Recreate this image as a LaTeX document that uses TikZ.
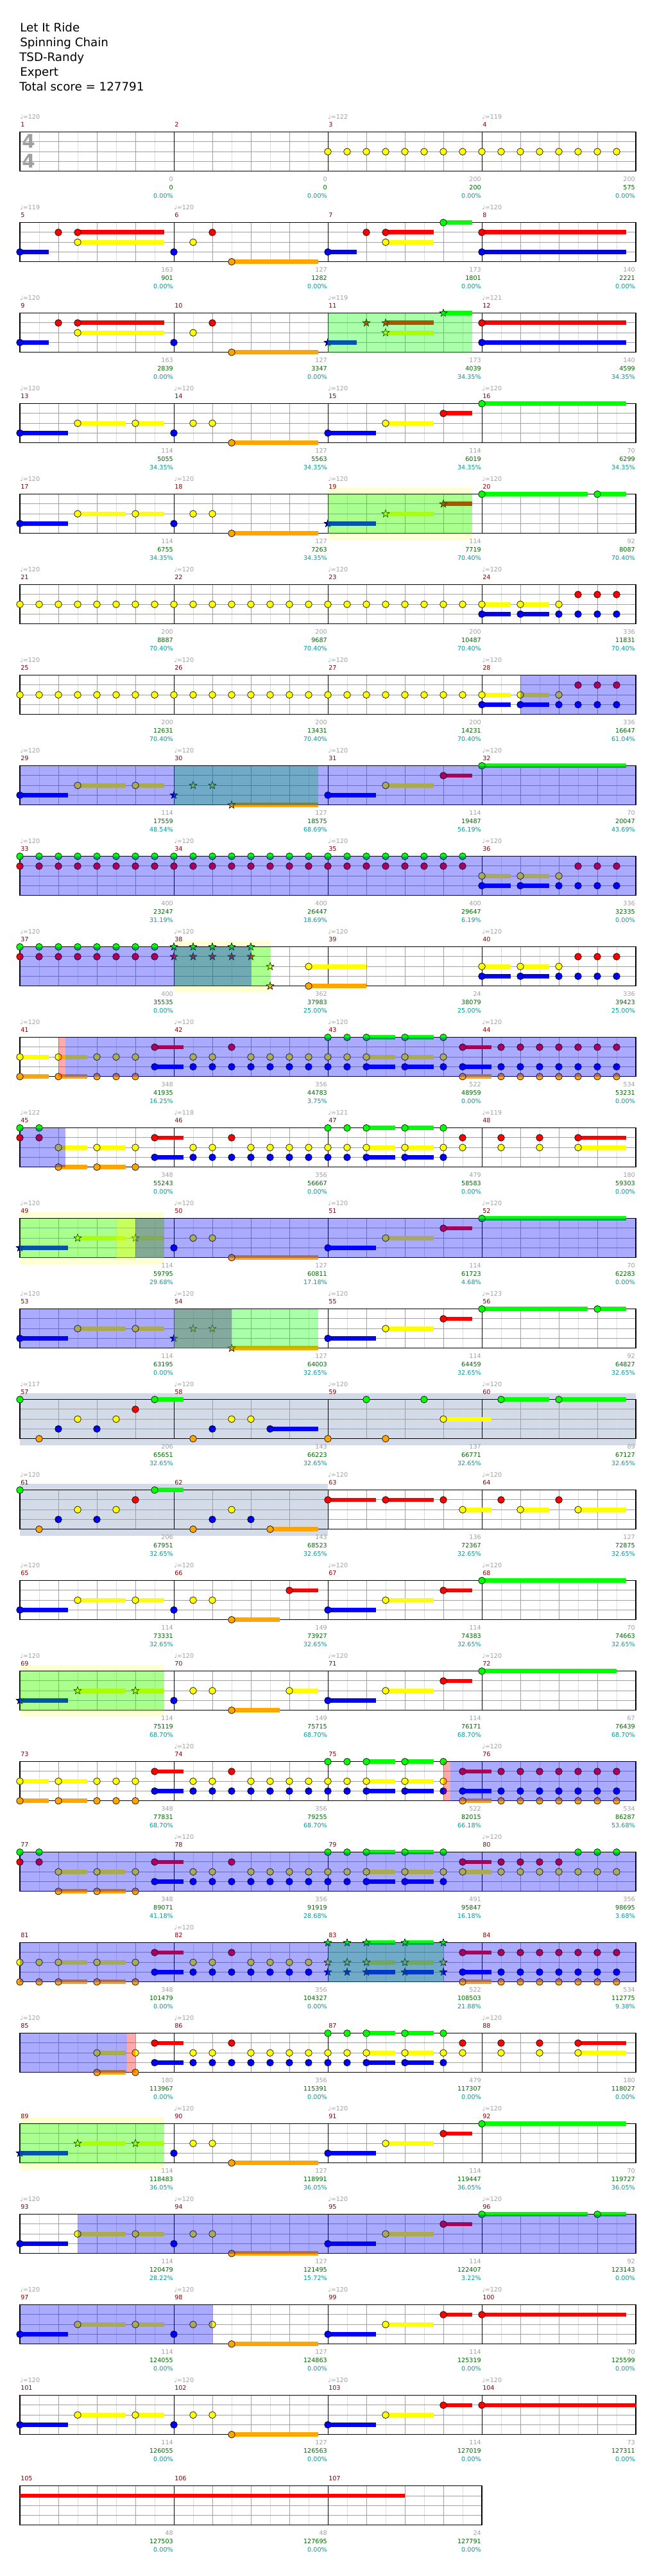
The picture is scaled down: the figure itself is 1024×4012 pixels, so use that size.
\documentclass[tikz,border=0pt]{standalone}
\usepackage{fontspec}
\setmainfont{DejaVu Sans}
\definecolor{cG}{HTML}{00FF00}
\definecolor{cR}{HTML}{FF0000}
\definecolor{cY}{HTML}{FFFF00}
\definecolor{cB}{HTML}{0000FF}
\definecolor{cO}{HTML}{FFA500}
\definecolor{cBl}{HTML}{0000FF}
\definecolor{cYo}{HTML}{FFFF00}
\definecolor{cPY}{HTML}{FFFFD4}
\definecolor{cSl}{HTML}{D4DBE8}
\definecolor{gridl}{HTML}{DCDCDC}
\definecolor{gridd}{HTML}{A0A0A0}
\definecolor{mred}{HTML}{8B0000}
\definecolor{tgray}{HTML}{A0A0A0}
\definecolor{sgreen}{HTML}{006400}
\definecolor{scyan}{HTML}{009999}
\tikzset{
 rowat/.style={shift={(31,{205.7+141*(#1-1)})},x=22.5pt,y=-11.4375pt},
 gl/.style={draw=gridl,line width=0.75pt},
 gd/.style={draw=gridd,line width=0.75pt},
 ml/.style={draw=black,line width=0.75pt},
 bd/.style={draw=black,line width=1pt},
 nt/.style={draw=black,line width=0.5pt},
 small/.style={inner sep=0pt,font=\fontsize{7.2}{8}\selectfont},
 ttl/.style={inner sep=0pt,anchor=base west,font=\fontsize{13.7}{16}\selectfont},
}
\newcommand\stf[1]{%
 \foreach \mm in {1,...,#1}{%
  \foreach \j in {1,3,5,7}{\draw[gl] ({8*(\mm-1)+\j},0) -- ++(0,4);}
  \foreach \j in {2,4,6}{\draw[gd] ({8*(\mm-1)+\j},0) -- ++(0,4);}
 }
 \foreach \l in {1,2,3}{\draw[gd] (0,\l) -- ({8*#1},\l);}
 \foreach \mm in {2,...,#1}{\draw[ml] ({8*(\mm-1)},0) -- ++(0,4);}
 \draw[bd] (0,0) rectangle ({8*#1},4);
}
\newcommand\Nt[3]{\foreach \e in {#3}{\filldraw[nt,fill=#2] (\e,#1) circle[radius=4pt];}}
\newcommand\Sr[3]{\foreach \e in {#3}{\filldraw[nt,fill=#2,shift={(\e,#1)}] (90:4.6pt) -- (126:1.9pt) -- (162:4.6pt) -- (198:1.9pt) -- (234:4.6pt) -- (270:1.9pt) -- (306:4.6pt) -- (342:1.9pt) -- (18:4.6pt) -- (54:1.9pt) -- cycle;}}
\newcommand\Su[3]{\foreach \ua/\ub in {#3}{\fill[#2] ([yshift=2.6pt]\ua,#1) rectangle ([yshift=-2.6pt]\ub,#1);}}
\newcommand\Ov[3]{\fill[#1,fill opacity=0.333] (#2,0) rectangle (#3,4);}
\newcommand\Bk[3]{\fill[#1] (#2,-0.66) rectangle (#3,4.66);}
\newcommand\firstA{\Su{3}{cB}{0/2.5}\Su{2}{cY}{3/5.5,6/7.5}\Su{4}{cO}{11/15.5}\Nt{3}{cB}{0,8}\Nt{2}{cY}{3,6,9,10}\Nt{4}{cO}{11}}
\newcommand\firstS{\Su{3}{cB}{0/2.5}\Su{2}{cY}{3/5.5,6/7.5}\Sr{3}{cB}{0}\Sr{2}{cY}{3,6}\Nt{3}{cB}{8}\Nt{2}{cY}{9,10}}
\newcommand\secA{\Su{3}{cB}{16/18.5}\Su{2}{cY}{19/21.5}\Su{1}{cR}{22/23.5}\Nt{3}{cB}{16}\Nt{2}{cY}{19}\Nt{1}{cR}{22}}
\newcommand\finY{\Su{2}{cY}{24/25.5,26/27.5}\Su{3}{cB}{24/25.5,26/27.5}\Nt{2}{cY}{24,26,28}\Nt{3}{cB}{24,26,28,29,30,31}\Nt{1}{cR}{29,30,31}}
\newcommand\midA{\Su{1}{cR}{7/8.5}\Su{3}{cB}{7/8.5,18/19.5,20/21.5}\Su{2}{cY}{18/19.5,20/21.5}\Su{0}{cG}{18/19.5,20/21.5}%
 \Nt{1}{cR}{7,11}\Nt{2}{cY}{9,10,12,13,14,15,16,17,18,20,22}\Nt{3}{cB}{7,9,10,11,12,13,14,15,16,17,18,20,22}\Nt{0}{cG}{16,17,18,20,22}}
\newcommand\midS{\Su{1}{cR}{7/8.5}\Su{3}{cB}{7/8.5,18/19.5,20/21.5}\Su{2}{cY}{18/19.5,20/21.5}\Su{0}{cG}{18/19.5,20/21.5}%
 \Nt{1}{cR}{7,11}\Nt{2}{cY}{9,10,12,13,14,15}\Nt{3}{cB}{7,9,10,11,12,13,14,15}\Sr{0}{cG}{16,17,18,20,22}\Sr{2}{cY}{16,17,18,20,22}\Sr{3}{cB}{16,17,18,20,22}}
\newcommand\finR{\Su{1}{cR}{23/24.5}\Su{3}{cB}{23/24.5}\Su{4}{cO}{23/24.5}\Nt{1}{cR}{23,25,26,27,28,29,30,31}\Nt{3}{cB}{23,25,26,27,28,29,30,31}\Nt{4}{cO}{23,25,26,27,28,29,30,31}}
\newcommand\finRY{\Su{1}{cR}{29/31.5}\Su{2}{cY}{29/31.5}\Nt{1}{cR}{23,25,27,29}\Nt{2}{cY}{23,25,27,29}}
\newcommand\startY{\Su{2}{cY}{0/1.5,2/3.5}\Su{4}{cO}{0/1.5,2/3.5}\Nt{2}{cY}{0,2,4,5,6}\Nt{4}{cO}{0,2,4,5,6}}
\begin{document}
\begin{tikzpicture}[x=0.75pt,y=-0.75pt]
\useasboundingbox (0,0) rectangle (1024,4012);
\fill[white] (0,0) rectangle (1024,4012);
\node[ttl] (t1) at (31,49) {Let It Ride};
\node[ttl] (t2) at (31,72.2) {Spinning Chain};
\node[ttl] (t3) at (30,95.4) {TSD-Randy};
\node[ttl] (t4) at (31,118.5) {Expert};
\node[ttl] (t5) at (30,141.7) {Total score = 127791};
% row 1
\begin{scope}[rowat=1]
\stf{4}
\Nt{2}{cY}{16,...,31}
\end{scope}
\node[text=gridd,font=\bfseries\fontsize{22}{22}\selectfont,inner sep=0pt] (ts1) at (44.5,220) {4};
\node[text=gridd,font=\bfseries\fontsize{22}{22}\selectfont,inner sep=0pt] (ts2) at (44.5,250.5) {4};
% row 2
\begin{scope}[rowat=2]
\stf{4}
\Su{0}{cG}{22/23.5}\Su{1}{cR}{3/7.5,19/21.5,24/31.5}\Su{2}{cY}{3/7.5,19/21.5}\Su{3}{cB}{0/1.5,16/17.5,24/31.5}\Su{4}{cO}{11/15.5}
\Nt{0}{cG}{22}\Nt{1}{cR}{2,3,10,18,19,24}\Nt{2}{cY}{3,9,19}\Nt{3}{cB}{0,8,16,24}\Nt{4}{cO}{11}
\end{scope}
% row 3
\begin{scope}[rowat=3]
\stf{4}
\Su{0}{cG}{22/23.5}\Su{1}{cR}{3/7.5,19/21.5,24/31.5}\Su{2}{cY}{3/7.5,19/21.5}\Su{3}{cB}{0/1.5,16/17.5,24/31.5}\Su{4}{cO}{11/15.5}
\Nt{1}{cR}{2,3,10,24}\Nt{2}{cY}{3,9}\Nt{3}{cB}{0,8,24}\Nt{4}{cO}{11}
\Sr{3}{cB}{16}\Sr{1}{cR}{18,19}\Sr{2}{cY}{19}\Sr{0}{cG}{22}
\Ov{cG}{16}{23.5}
\end{scope}
% row 4
\begin{scope}[rowat=4]
\stf{4}
\firstA\secA\Su{0}{cG}{24/31.5}\Nt{0}{cG}{24}
\end{scope}
% row 5
\begin{scope}[rowat=5]
\Bk{cPY}{16}{23.5}
\stf{4}
\firstA\Su{3}{cB}{16/18.5}\Su{2}{cY}{19/21.5}\Su{1}{cR}{22/23.5}\Su{0}{cG}{24/29.5,30/31.5}
\Sr{3}{cB}{16}\Sr{2}{cY}{19}\Sr{1}{cR}{22}\Nt{0}{cG}{24,30}
\Ov{cG}{16}{23.5}
\end{scope}
% row 6
\begin{scope}[rowat=6]
\stf{4}
\Nt{2}{cY}{0,...,23}\finY
\end{scope}
% row 7
\begin{scope}[rowat=7]
\stf{4}
\Nt{2}{cY}{0,...,23}\finY
\Ov{cBl}{26}{32}
\end{scope}
% row 8
\begin{scope}[rowat=8]
\stf{4}
\Su{3}{cB}{0/2.5}\Su{2}{cY}{3/5.5,6/7.5}\Su{4}{cO}{11/15.5}\Nt{3}{cB}{0}\Nt{2}{cY}{3,6}
\Sr{3}{cB}{8}\Sr{2}{cY}{9,10}\Sr{4}{cO}{11}
\secA\Su{0}{cG}{24/31.5}\Nt{0}{cG}{24}
\Ov{cG}{8}{15.5}\Ov{cBl}{0}{32}
\end{scope}
% row 9
\begin{scope}[rowat=9]
\stf{4}
\Nt{0}{cG}{0,...,23}\Nt{1}{cR}{0,...,23}\finY
\Ov{cBl}{0}{32}
\end{scope}
% row 10
\begin{scope}[rowat=10]
\Bk{cPY}{8}{13}
\stf{4}
\Nt{0}{cG}{0,...,7}\Nt{1}{cR}{0,...,7}
\Sr{0}{cG}{8,...,12}\Sr{1}{cR}{8,...,12}\Sr{2}{cY}{13}\Sr{4}{cO}{13}
\Su{2}{cY}{15/18}\Su{4}{cO}{15/18}\Nt{2}{cY}{15}\Nt{4}{cO}{15}
\finY
\Ov{cG}{8}{13}\Ov{cBl}{0}{12}
\end{scope}
% row 11
\begin{scope}[rowat=11]
\stf{4}
\startY\midA\finR
\Ov{cR}{2}{2.37}\Ov{cBl}{2.37}{32}
\end{scope}
% row 12
\begin{scope}[rowat=12]
\stf{4}
\Nt{0}{cG}{0,1}\Nt{1}{cR}{0,1}\Su{2}{cY}{2/3.5,4/5.5}\Su{4}{cO}{2/3.5,4/5.5}\Nt{2}{cY}{2,4,6}\Nt{4}{cO}{2,4,6}
\midA\finRY
\Ov{cBl}{0}{2.37}
\end{scope}
% row 13
\begin{scope}[rowat=13]
\Bk{cPY}{0}{7.5}
\stf{4}
\firstS\Su{4}{cO}{11/15.5}\Nt{4}{cO}{11}\secA\Su{0}{cG}{24/31.5}\Nt{0}{cG}{24}
\Ov{cG}{0}{7.5}\Ov{cYo}{5}{7.5}\Ov{cBl}{6}{32}
\end{scope}
% row 14
\begin{scope}[rowat=14]
\stf{4}
\Su{3}{cB}{0/2.5}\Su{2}{cY}{3/5.5,6/7.5}\Su{4}{cO}{11/15.5}\Nt{3}{cB}{0}\Nt{2}{cY}{3,6}
\Sr{3}{cB}{8}\Sr{2}{cY}{9,10}\Sr{4}{cO}{11}
\secA\Su{0}{cG}{24/29.5,30/31.5}\Nt{0}{cG}{24,30}
\Ov{cG}{8}{15.5}\Ov{cYo}{8}{11}\Ov{cBl}{0}{11}
\end{scope}
% row 15
\begin{scope}[rowat=15]
\Bk{cSl}{0}{32}
\stf{4}
\Su{0}{cG}{7/8.5,25/27.5,28/31.5}\Su{3}{cB}{13/15.5}\Su{2}{cY}{22/24.5}
\Nt{0}{cG}{0,7,18,21,25,28}\Nt{4}{cO}{1,9,16,19}\Nt{3}{cB}{2,4,10,13}\Nt{2}{cY}{3,5,11,12,22}\Nt{1}{cR}{6}
\end{scope}
% row 16
\begin{scope}[rowat=16]
\Bk{cSl}{0}{16}
\stf{4}
\Su{0}{cG}{7/8.5}\Su{4}{cO}{13/15.5}\Su{2}{cY}{23/24.5,26/27.5,29/31.5}\Su{1}{cR}{16/18.5,19/21.5}
\Nt{0}{cG}{0,7}\Nt{4}{cO}{1,9,13}\Nt{3}{cB}{2,4,10,12}\Nt{2}{cY}{3,5,11,23,26,29}\Nt{1}{cR}{6,16,19,22,25,28}
\end{scope}
% row 17
\begin{scope}[rowat=17]
\stf{4}
\Su{3}{cB}{0/2.5}\Su{2}{cY}{3/5.5,6/7.5}\Su{4}{cO}{11/13.5}\Su{1}{cR}{14/15.5}
\Nt{3}{cB}{0,8}\Nt{2}{cY}{3,6,9,10}\Nt{4}{cO}{11}\Nt{1}{cR}{14}
\secA\Su{0}{cG}{24/31.5}\Nt{0}{cG}{24}
\end{scope}
% row 18
\begin{scope}[rowat=18]
\Bk{cPY}{0}{7.5}
\stf{4}
\firstS\Su{4}{cO}{11/13.5}\Su{2}{cY}{14/15.5}\Nt{4}{cO}{11}\Nt{2}{cY}{14}
\secA\Su{0}{cG}{24/31}\Nt{0}{cG}{24}
\Ov{cG}{0}{7.5}
\end{scope}
% row 19
\begin{scope}[rowat=19]
\stf{4}
\startY\midA\finR
\Ov{cR}{22}{22.37}\Ov{cBl}{22.37}{32}
\end{scope}
% row 20
\begin{scope}[rowat=20]
\stf{4}
\Nt{0}{cG}{0,1}\Nt{1}{cR}{0,1}\Su{2}{cY}{2/3.5,4/5.5}\Su{4}{cO}{2/3.5,4/5.5}\Nt{2}{cY}{2,4,6}\Nt{4}{cO}{2,4,6}
\midA
\Su{1}{cR}{23/24.5}\Su{2}{cY}{23/24.5}\Nt{1}{cR}{23,25,26,27,28}\Nt{2}{cY}{23,25,26,27,28,29,30,31}\Nt{0}{cG}{29,30,31}
\Ov{cBl}{0}{32}
\end{scope}
% row 21
\begin{scope}[rowat=21]
\stf{4}
\Su{2}{cY}{2/3.5,4/5.5}\Su{4}{cO}{2/3.5,4/5.5}\Nt{2}{cY}{0,1,2,4,6}\Nt{4}{cO}{0,1,2,4,6}
\midS\finR
\Ov{cG}{16}{22}\Ov{cBl}{0}{32}
\end{scope}
% row 22
\begin{scope}[rowat=22]
\stf{4}
\Su{2}{cY}{4/5.5}\Su{4}{cO}{4/5.5}\Nt{2}{cY}{4,6}\Nt{4}{cO}{4,6}
\midA\finRY
\Ov{cBl}{0}{5.57}\Ov{cR}{5.57}{6}
\end{scope}
% row 23
\begin{scope}[rowat=23]
\Bk{cPY}{0}{7.5}
\stf{4}
\firstS\Su{4}{cO}{11/15.5}\Nt{4}{cO}{11}\secA\Su{0}{cG}{24/31.5}\Nt{0}{cG}{24}
\Ov{cG}{0}{7.5}
\end{scope}
% row 24
\begin{scope}[rowat=24]
\stf{4}
\firstA\secA\Su{0}{cG}{24/29.5,30/31.5}\Nt{0}{cG}{24,30}
\Ov{cBl}{3}{32}
\end{scope}
% row 25
\begin{scope}[rowat=25]
\stf{4}
\firstA\secA\Su{1}{cR}{24/31.5}\Nt{1}{cR}{24}
\Ov{cBl}{0}{10}
\end{scope}
% row 26
\begin{scope}[rowat=26]
\stf{4}
\firstA\secA\Su{1}{cR}{24/32}\Nt{1}{cR}{24}
\end{scope}
% row 27
\begin{scope}[rowat=27]
\stf{3}
\Su{1}{cR}{0/20}
\end{scope}
% measure texts
\foreach \m/\tp/\ga/\gb/\pc in {
1/120/0/0/0.00, 2/0/0/0/0.00, 3/122/200/200/0.00, 4/119/200/575/0.00,
5/119/163/901/0.00, 6/120/127/1282/0.00, 7/0/173/1801/0.00, 8/120/140/2221/0.00,
9/120/163/2839/0.00, 10/0/127/3347/0.00, 11/119/173/4039/34.35, 12/121/140/4599/34.35,
13/120/114/5055/34.35, 14/120/127/5563/34.35, 15/120/114/6019/34.35, 16/120/70/6299/34.35,
17/120/114/6755/34.35, 18/120/127/7263/34.35, 19/120/114/7719/70.40, 20/120/92/8087/70.40,
21/120/200/8887/70.40, 22/120/200/9687/70.40, 23/120/200/10487/70.40, 24/120/336/11831/70.40,
25/120/200/12631/70.40, 26/120/200/13431/70.40, 27/120/200/14231/70.40, 28/120/336/16647/61.04,
29/120/114/17559/48.54, 30/120/127/18575/68.69, 31/120/114/19487/56.19, 32/120/70/20047/43.69,
33/120/400/23247/31.19, 34/120/400/26447/18.69, 35/120/400/29647/6.19, 36/120/336/32335/0.00,
37/120/400/35535/0.00, 38/120/362/37983/25.00, 39/120/24/38079/25.00, 40/120/336/39423/25.00,
41/120/348/41935/16.25, 42/120/356/44783/3.75, 43/120/522/48959/0.00, 44/120/534/53231/0.00,
45/122/348/55243/0.00, 46/118/356/56667/0.00, 47/121/479/58583/0.00, 48/119/180/59303/0.00,
49/120/114/59795/29.68, 50/120/127/60811/17.18, 51/120/114/61723/4.68, 52/120/70/62283/0.00,
53/120/114/63195/0.00, 54/120/127/64003/32.65, 55/120/114/64459/32.65, 56/123/92/64827/32.65,
57/117/206/65651/32.65, 58/120/143/66223/32.65, 59/120/137/66771/32.65, 60/120/89/67127/32.65,
61/120/206/67951/32.65, 62/0/143/68523/32.65, 63/120/136/72367/32.65, 64/120/127/72875/32.65,
65/120/114/73331/32.65, 66/120/149/73927/32.65, 67/120/114/74383/32.65, 68/120/70/74663/32.65,
69/120/114/75119/68.70, 70/120/149/75715/68.70, 71/120/114/76171/68.70, 72/120/67/76439/68.70,
73/0/348/77831/68.70, 74/120/356/79255/68.70, 75/0/522/82015/66.18, 76/120/534/86287/53.68,
77/0/348/89071/41.18, 78/120/356/91919/28.68, 79/0/491/95847/16.18, 80/120/356/98695/3.68,
81/0/348/101479/0.00, 82/120/356/104327/0.00, 83/0/522/108503/21.88, 84/0/534/112775/9.38,
85/120/180/113967/0.00, 86/120/356/115391/0.00, 87/0/479/117307/0.00, 88/120/180/118027/0.00,
89/0/114/118483/36.05, 90/120/127/118991/36.05, 91/120/114/119447/36.05, 92/120/70/119727/36.05,
93/120/114/120479/28.22, 94/120/127/121495/15.72, 95/120/114/122407/3.22, 96/120/92/123143/0.00,
97/120/114/124055/0.00, 98/120/127/124863/0.00, 99/120/114/125319/0.00, 100/120/70/125599/0.00,
101/120/114/126055/0.00, 102/120/127/126563/0.00, 103/120/114/127019/0.00, 104/120/73/127311/0.00,
105/0/48/127503/0.00, 106/0/48/127695/0.00, 107/0/24/127791/0.00}{
 \pgfmathtruncatemacro\rr{int((\m-1)/4)}
 \pgfmathtruncatemacro\cc{\m-1-4*\rr}
 \pgfmathsetmacro\xm{31+240*\cc}
 \pgfmathsetmacro\ym{205.7+141*\rr}
 \node[small,text=mred,anchor=base west] (mn\m) at (\xm+1,\ym-8.4) {\m};
 \ifnum\tp>0 \node[small,text=tgray,anchor=base west] (tp\m) at (\xm,\ym-20.4) {♩=\tp}; \fi
 \node[small,text=tgray,anchor=base east] (sa\m) at (\xm+239,\ym+76.3) {\ga};
 \node[small,text=sgreen,anchor=base east] (sb\m) at (\xm+239,\ym+89.3) {\gb};
 \node[small,text=scyan,anchor=base east] (sc\m) at (\xm+239,\ym+102.6) {\pc\%};
}
\end{tikzpicture}
\end{document}
